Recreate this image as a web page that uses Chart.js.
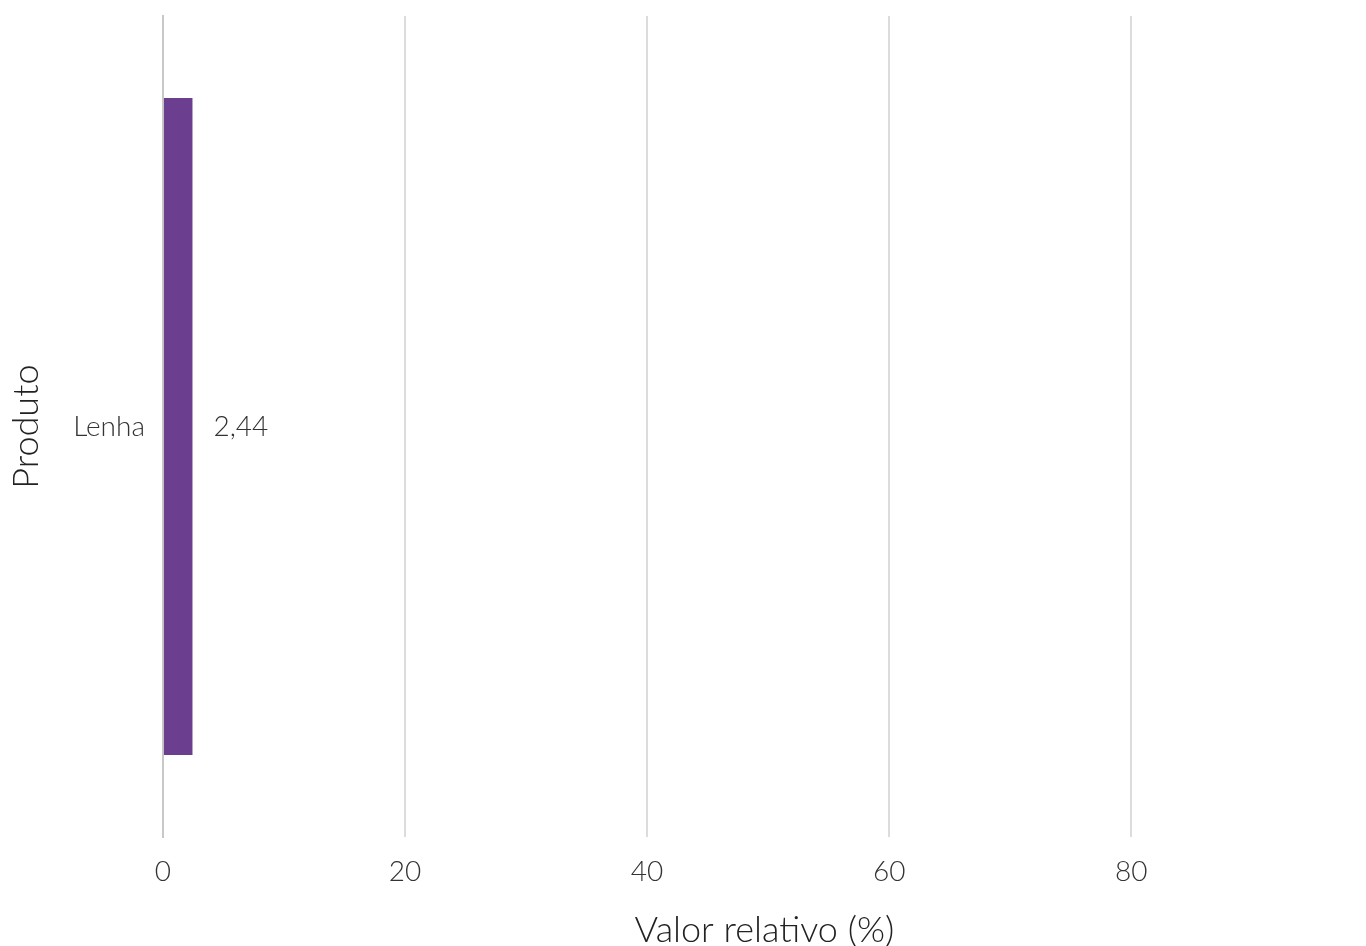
<!DOCTYPE html>
<html>
<head>
<meta charset="utf-8">
<script src="https://cdn.jsdelivr.net/npm/chart.js@4.4.1/dist/chart.umd.min.js"></script>
<style>
    html, body { margin: 0; padding: 0; background: #fff; overflow: hidden; }
    #wrap { width: 1366px; height: 946px; }
</style>
</head>
<body>
<div id="wrap"><canvas id="grafico"></canvas></div>
<script>
// dados
const produtos = ['Lenha'];
const valores = [2.44];
const ticksX = [0, 20, 40, 60, 80];
const eixoMax = 99.4;

// rótulo de valor ao lado da barra
const rotulos = {
    id: 'rotulos',
    afterDatasetsDraw(chart) {
        const ctx = chart.ctx;
        const meta = chart.getDatasetMeta(0);
        ctx.save();
        ctx.font = '300 28px Lato';
        ctx.fillStyle = '#333333';
        ctx.textAlign = 'left';
        ctx.textBaseline = 'middle';
        meta.data.forEach((bar, i) => {
            const txt = valores[i].toFixed(2).replace('.', ',');
            ctx.fillText(txt, bar.x + 21, bar.y);
        });
        ctx.restore();
    }
};

new Chart(document.getElementById('grafico'), {
    type: 'bar',
    data: {
        labels: produtos,
        datasets: [{
            label: 'Valor relativo (%)',
            data: valores,
            backgroundColor: '#6c3e8f',
            barPercentage: 0.8,
            categoryPercentage: 1
        }]
    },
    options: {
        indexAxis: 'y',
        responsive: true,
        maintainAspectRatio: false,
        animation: false,
        layout: {
            padding: { top: 16, right: 0, left: 5, bottom: -6 }
        },
        plugins: {
            legend: { display: false },
            tooltip: { enabled: false }
        },
        scales: {
            x: {
                min: 0,
                max: eixoMax,
                afterBuildTicks: (axis) => {
                    axis.ticks = ticksX.map(v => ({ value: v }));
                },
                afterFit: (axis) => {
                    axis.paddingLeft = 0;
                    axis.paddingRight = 0;
                },
                grid: {
                    color: '#dcdcdc',
                    lineWidth: 2,
                    drawTicks: false
                },
                border: { display: false },
                ticks: {
                    padding: 18,
                    color: '#333333',
                    font: { family: 'Lato', weight: '300', size: 28 }
                },
                title: {
                    display: true,
                    text: 'Valor relativo (%)',
                    color: '#222222',
                    padding: { top: 2, bottom: 0 },
                    font: { family: 'Lato', weight: '300', size: 36 }
                }
            },
            y: {
                afterFit: (axis) => {
                    axis.paddingTop = 0;
                    axis.paddingBottom = 0;
                },
                grid: { display: false, drawTicks: false },
                border: { display: true, color: '#c8c8c8', width: 2 },
                ticks: {
                    padding: 18,
                    color: '#333333',
                    font: { family: 'Lato', weight: '300', size: 28 }
                },
                title: {
                    display: true,
                    text: 'Produto',
                    color: '#222222',
                    padding: { top: 0, bottom: 7 },
                    font: { family: 'Lato', weight: '300', size: 36 }
                }
            }
        }
    },
    plugins: [rotulos]
});
</script>
</body>
</html>
